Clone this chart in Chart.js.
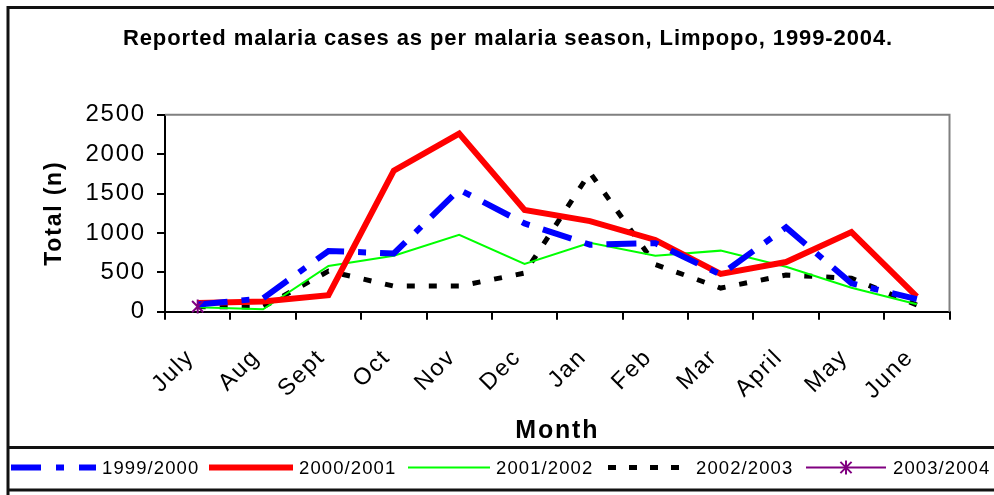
<!DOCTYPE html>
<html>
<head>
<meta charset="utf-8">
<script src="https://cdn.jsdelivr.net/npm/chart.js@4"></script>
<style>
  html, body { margin: 0; padding: 0; background: #fff; }
  #wrap { width: 994px; height: 495px; position: relative; }
</style>
</head>
<body>
<div id="wrap"><canvas id="chart"></canvas></div>
<script>
// data
const months = ['July', 'Aug', 'Sept', 'Oct', 'Nov', 'Dec', 'Jan', 'Feb', 'Mar', 'April', 'May', 'June'];
const s1999 = [90, 170, 770, 740, 1550, 1120, 850, 870, 470, 1070, 360, 160];
const s2000 = [110, 130, 210, 1790, 2260, 1290, 1150, 910, 480, 630, 1010, 190];
const s2001 = [55, 30, 580, 710, 975, 605, 875, 710, 775, 570, 305, 95];
const s2002 = [65, 60, 515, 325, 325, 490, 1765, 600, 300, 465, 425, 85];
const s2003 = [65, null, null, null, null, null, null, null, null, null, null, null];
const seasons = ['1999/2000', '2000/2001', '2001/2002', '2002/2003', '2003/2004'];
const yTicks = [0, 500, 1000, 1500, 2000, 2500];

const FONT = 'Arial, "Liberation Sans", sans-serif';
const PLOT_LEFT = 165, PLOT_BOTTOM = 311.7;

// asterisk marker like excel's star
function drawStar(ctx, x, y, r, color) {
    ctx.save();
    ctx.strokeStyle = color;
    ctx.lineWidth = 2;
    ctx.setLineDash([]);
    ctx.beginPath();
    ctx.moveTo(x - r * 0.8, y - r * 0.8); ctx.lineTo(x + r * 0.8, y + r * 0.8);
    ctx.moveTo(x + r * 0.8, y - r * 0.8); ctx.lineTo(x - r * 0.8, y + r * 0.8);
    ctx.moveTo(x, y - r); ctx.lineTo(x, y + r);
    ctx.stroke();
    ctx.restore();
}

// frame, title and legend drawn by hand (excel style)
const excelFrame = {
    id: 'excelFrame',
    beforeDraw(chart) {
        const ctx = chart.ctx;
        ctx.save();
        ctx.fillStyle = '#fff';
        ctx.fillRect(0, 0, chart.width, chart.height);
        ctx.restore();
        ctx.letterSpacing = '1.8px';
    },
    beforeDatasetsDraw(chart) {
        const { ctx, chartArea: a } = chart;
        ctx.save();
        ctx.strokeStyle = '#808080';
        ctx.lineWidth = 2;
        ctx.beginPath();
        ctx.moveTo(a.left, a.top);
        ctx.lineTo(a.right, a.top);
        ctx.lineTo(a.right, a.bottom);
        ctx.stroke();
        ctx.restore();
    },
    afterDatasetsDraw(chart) {
        // star markers for the single-point season
        chart.data.datasets.forEach((ds, i) => {
            if (!ds.starMarker) return;
            chart.getDatasetMeta(i).data.forEach((pt, j) => {
                if (ds.data[j] == null) return;
                drawStar(chart.ctx, pt.x, pt.y, 7, ds.borderColor);
            });
        });
    },
    afterDraw(chart) {
        const ctx = chart.ctx;
        ctx.save();
        // outer frame
        ctx.strokeStyle = '#111';
        ctx.lineWidth = 3;
        ctx.beginPath();
        ctx.moveTo(8, 495);
        ctx.lineTo(8, 7.5);
        ctx.lineTo(994, 7.5);
        ctx.moveTo(8, 447.5);
        ctx.lineTo(994, 447.5);
        ctx.moveTo(8, 490);
        ctx.lineTo(994, 490);
        ctx.stroke();

        // title
        ctx.letterSpacing = '0.9px';
        ctx.fillStyle = '#000';
        ctx.font = 'bold 22px ' + FONT;
        ctx.textAlign = 'center';
        ctx.textBaseline = 'alphabetic';
        ctx.fillText('Reported malaria cases as per malaria season, Limpopo, 1999-2004.', 508, 45);

        // legend
        const items = [
            { x0: 11, x1: 96, tx: 102 },
            { x0: 209, x1: 293, tx: 299 },
            { x0: 408, x1: 490, tx: 496 },
            { x0: 608, x1: 685, tx: 696 },
            { x0: 806, x1: 886, tx: 893 }
        ];
        const ly = 467.5;
        ctx.letterSpacing = '1.1px';
        ctx.font = '18.5px ' + FONT;
        ctx.textAlign = 'left';
        ctx.textBaseline = 'middle';
        chart.data.datasets.forEach((ds, i) => {
            const it = items[i];
            ctx.save();
            ctx.strokeStyle = ds.borderColor;
            ctx.lineWidth = ds.borderWidth;
            ctx.setLineDash(ds.legendDash || []);
            ctx.lineCap = 'butt';
            ctx.beginPath();
            ctx.moveTo(it.x0, ly);
            ctx.lineTo(it.x1, ly);
            ctx.stroke();
            ctx.restore();
            if (ds.starMarker) drawStar(ctx, (it.x0 + it.x1) / 2, ly, 7, ds.borderColor);
            ctx.fillStyle = '#000';
            ctx.fillText(ds.label, it.tx, ly + 1);
        });
        ctx.restore();
    }
};

new Chart(document.getElementById('chart'), {
    type: 'line',
    data: {
        labels: months,
        datasets: [
            {
                label: seasons[0], data: s1999,
                borderColor: '#0000ff', borderWidth: 6,
                borderDash: [30, 14, 8, 14], legendDash: [30, 15, 8, 15],
                pointRadius: 0, tension: 0
            },
            {
                label: seasons[1], data: s2000,
                borderColor: '#ff0000', borderWidth: 6,
                pointRadius: 0, tension: 0
            },
            {
                label: seasons[2], data: s2001,
                borderColor: '#00ff00', borderWidth: 2,
                pointRadius: 0, tension: 0
            },
            {
                label: seasons[3], data: s2002,
                borderColor: '#000000', borderWidth: 5,
                borderDash: [8, 14], legendDash: [8, 13],
                pointRadius: 0, tension: 0
            },
            {
                label: seasons[4], data: s2003,
                borderColor: '#800080', borderWidth: 2,
                pointRadius: 0, tension: 0, starMarker: true
            }
        ]
    },
    options: {
        responsive: true,
        maintainAspectRatio: false,
        animation: false,
        layout: { padding: { left: 40.8, top: 114.7, right: 994 - 949.5, bottom: 48.6 } },
        plugins: {
            legend: { display: false },
            title: { display: false },
            tooltip: { enabled: false }
        },
        elements: { line: { borderCapStyle: 'butt', borderJoinStyle: 'miter' } },
        scales: {
            x: {
                offset: true,
                grid: { offset: true, drawOnChartArea: false, drawTicks: true, tickLength: 8, color: '#000', lineWidth: 2 },
                border: { color: '#000', width: 2 },
                ticks: {
                    autoSkip: false, minRotation: 45, maxRotation: 45,
                    padding: 24, labelOffset: -7, color: '#000', font: { family: FONT, size: 23.5 }
                },
                title: {
                    display: true, text: 'Month', color: '#000',
                    font: { family: FONT, size: 25, weight: 'bold' },
                    padding: { top: 0, bottom: 0 }
                },
                afterFit(scale) { scale.height = 446.4 - PLOT_BOTTOM; }
            },
            y: {
                min: 0, max: 2500,
                afterBuildTicks(scale) { scale.ticks = yTicks.map(v => ({ value: v })); },
                grid: { drawOnChartArea: false, drawTicks: true, tickLength: 8, color: '#000', lineWidth: 2 },
                border: { color: '#000', width: 2 },
                ticks: {
                    padding: 11, color: '#000', font: { family: FONT, size: 24 },
                    callback: v => String(v)
                },
                title: {
                    display: true, text: 'Total (n)', color: '#000',
                    font: { family: FONT, size: 23, weight: 'bold' },
                    padding: { top: 0, bottom: 0 }
                },
                afterFit(scale) { scale.width = PLOT_LEFT - 40.8; }
            }
        }
    },
    plugins: [excelFrame]
});
</script>
</body>
</html>
